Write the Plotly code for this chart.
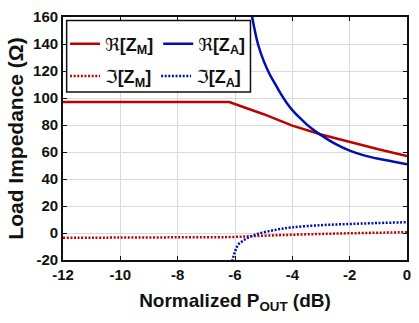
import plotly.graph_objects as go

# ---- data ----
x_re_m = [-12, -6.2, -5, -4, -3, -2, -1, 0]
re_m = [97, 97, 88, 79.5, 73, 67.3, 62, 57]

x_re_a = [-5.42, -5.2, -5.0, -4.8, -4.6, -4.4, -4.2, -4.0, -3.8, -3.5, -3.3, -3.0, -2.5, -2.0, -1.5, -1.0, -0.5, 0]
re_a = [162, 140, 127.5, 118, 110.5, 103, 96.5, 91, 86.5, 80.5, 77, 72.5, 66, 61, 57.5, 55, 53, 51]

x_im_m = [-12, -10, -8, -6.2, -5, -4, -3, -2, -1, 0]
im_m = [-3.5, -3.4, -3.2, -3.0, -2.0, -1.3, -0.7, -0.2, 0.2, 0.6]

x_im_a = [-6.1, -5.9, -5.7, -5.5, -5.2, -4.6, -4.0, -3.0, -2.0, -1.0, 0]
im_a = [-21, -9, -5.5, -3, -0.6, 2.3, 4.2, 5.8, 6.7, 7.4, 8.0]

x_ticks = [-12, -10, -8, -6, -4, -2, 0]
y_ticks = [-20, 0, 20, 40, 60, 80, 100, 120, 140, 160]

names = ["ℜ<b>[Z<sub>M</sub>]</b>", "ℜ<b>[Z<sub>A</sub>]</b>",
         "ℑ<b>[Z<sub>M</sub>]</b>", "ℑ<b>[Z<sub>A</sub>]</b>"]

RED = "#C00000"
BLUE = "#0010B0"
FONT = "Liberation Sans, Arial, DejaVu Sans"
DOT = "2px,1.6px"

fig = go.Figure()
fig.add_trace(go.Scatter(x=x_re_m, y=re_m, mode="lines", line=dict(color=RED, width=2.5),
                         name=names[0], legend="legend"))
fig.add_trace(go.Scatter(x=x_re_a, y=re_a, mode="lines", line=dict(color=BLUE, width=2.5, shape="spline"),
                         name=names[1], legend="legend"))
fig.add_trace(go.Scatter(x=x_im_m, y=im_m, mode="lines", line=dict(color=RED, width=2.5, dash=DOT, shape="spline"),
                         name=names[2], legend="legend2"))
fig.add_trace(go.Scatter(x=x_im_a, y=im_a, mode="lines", line=dict(color=BLUE, width=2.5, dash=DOT, shape="spline"),
                         name=names[3], legend="legend2"))

axis_common = dict(
    showline=True, linecolor="#111", linewidth=1.8, mirror="ticks",
    ticks="inside", ticklen=4, tickwidth=1.3, tickcolor="#111",
    showgrid=True, gridcolor="#DADADA", gridwidth=1, zeroline=False,
    tickfont=dict(family=FONT, size=15, color="#111"),
)

leg_common = dict(orientation="h", x=0.006, xanchor="left", yanchor="middle",
                  bgcolor="rgba(0,0,0,0)", borderwidth=0, itemwidth=30,
                  font=dict(family=FONT, size=18, color="#111"), tracegroupgap=0)

fig.update_layout(
    width=419, height=323,
    margin=dict(l=63, r=8, t=13, b=63),
    paper_bgcolor="white", plot_bgcolor="white",
    font=dict(family=FONT, color="#111"),
    xaxis=dict(range=[-12, 0], tickvals=x_ticks, ticktext=[f"<b>{v}</b>" for v in x_ticks],
               title=dict(text="<b>Normalized P<sub>OUT</sub> (dB)</b>", font=dict(family=FONT, size=19), standoff=12),
               **axis_common),
    yaxis=dict(range=[-20, 160], tickvals=y_ticks, ticktext=[f"<b>{v}</b>" for v in y_ticks],
               title=dict(text="<b>Load Impedance (Ω)</b>", font=dict(family=FONT, size=21), standoff=4),
               **axis_common),
    legend=dict(y=0.889, **leg_common),
    legend2=dict(y=0.756, **leg_common),
    shapes=[dict(type="rect", xref="paper", yref="paper", x0=0.0106, x1=0.545, y0=0.691, y1=0.986,
                 line=dict(color="#111", width=1.5), fillcolor="white", layer="above")],
)

fig.write_html("out.html")
